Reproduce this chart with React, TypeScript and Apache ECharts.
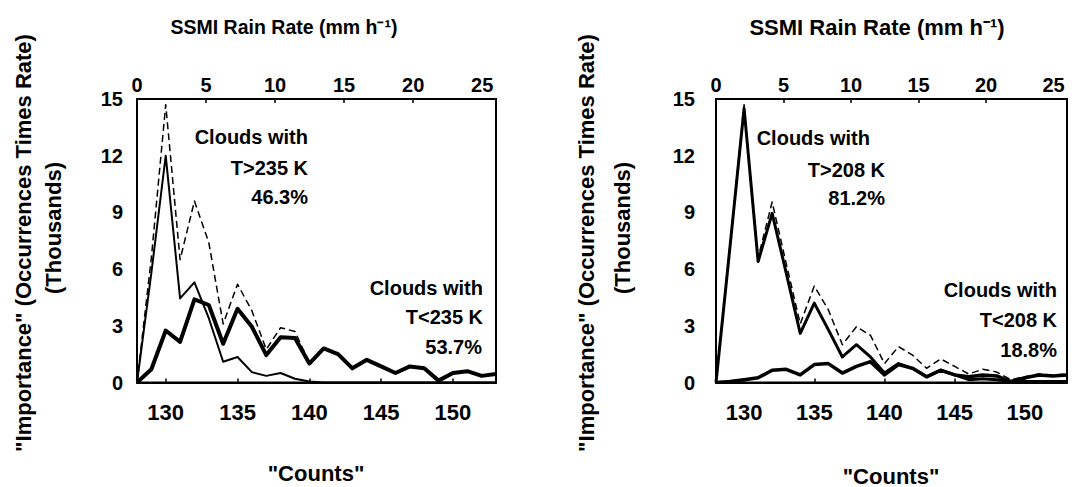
import React, { useEffect, useRef } from "react";
import * as echarts from "echarts";

// ---------- data ----------
const counts = [128, 129, 130, 131, 132, 133, 134, 135, 136, 137, 138, 139, 140, 141, 142, 143, 144, 145, 146, 147, 148, 149, 150, 151, 152, 153];

// Left panel (threshold 235 K)
const leftTotal = [0, 6.6, 14.7, 6.5, 9.6, 7.4, 3.1, 5.2, 3.8, 1.75, 2.9, 2.7, 1.05, 1.8, 1.5, 0.75, 1.2, 0.85, 0.5, 0.85, 0.75, 0.1, 0.5, 0.6, 0.35, 0.45];
const leftWarm = [0, 5.8, 12.0, 4.45, 5.3, 3.4, 1.1, 1.35, 0.55, 0.35, 0.5, 0.2, 0.05, 0, 0, 0, 0, 0, 0, 0, 0, 0, 0, 0, 0, 0];
const leftCold = [0, 0.7, 2.75, 2.15, 4.4, 4.1, 2.05, 3.9, 2.95, 1.45, 2.4, 2.35, 1.0, 1.8, 1.5, 0.75, 1.2, 0.85, 0.5, 0.85, 0.75, 0.1, 0.5, 0.6, 0.35, 0.45];

// Right panel (threshold 208 K)
const rightTotal = [0, 7.3, 14.7, 6.6, 9.55, 6.3, 3.1, 5.1, 3.85, 2.0, 2.95, 2.5, 1.0, 1.9, 1.45, 0.75, 1.25, 0.85, 0.45, 0.7, 0.55, 0.15, 0.3, 0.45, 0.4, 0.45];
const rightWarm = [0, 7.2, 14.5, 6.4, 8.95, 5.8, 2.6, 4.2, 2.8, 1.35, 2.0, 1.35, 0.5, 1.0, 0.75, 0.3, 0.65, 0.4, 0.15, 0.2, 0.15, 0.05, 0.05, 0.05, 0.05, 0.05];
const rightCold = [0, 0.05, 0.15, 0.25, 0.65, 0.7, 0.4, 0.95, 1.0, 0.5, 0.85, 1.1, 0.4, 0.95, 0.75, 0.3, 0.65, 0.4, 0.3, 0.4, 0.35, 0.05, 0.25, 0.4, 0.35, 0.4];

// Axis ticks / labels
const countTicks = [130, 135, 140, 145, 150];
const rainLabels = [0, 5, 10, 15, 20, 25];
const rainTicks = [5, 10, 15, 20];

const xTitle = '"Counts"';
const topTitle = "SSMI Rain Rate (mm h\u207B\u00B9)";
const yTitle1 = '"Importance" (Occurrences Times Rate)';
const yTitle2 = "(Thousands)";
const leftNotes = [["Clouds with", "T>235 K", "46.3%"], ["Clouds with", "T<235 K", "53.7%"]];
const rightNotes = [["Clouds with", "T>208 K", "81.2%"], ["Clouds with", "T<208 K", "18.8%"]];

const FONT = '"Liberation Sans", Arial, Helvetica, sans-serif';

function pairs(v: number[]) {
  return counts.map((c, i) => [c, v[i]]);
}

export default function App() {
  const ref = useRef<HTMLDivElement>(null);

  useEffect(() => {
    if (!ref.current) return;
    const chart = echarts.init(ref.current, null, { renderer: "svg" });

    const grids = [
      { left: 137, top: 99, width: 359, height: 283.5 },
      { left: 716, top: 99, width: 351, height: 283.5 },
    ];

    const bottomAxis = (gi: number) => ({
      type: "value",
      gridIndex: gi,
      position: "bottom",
      min: 128,
      max: 153,
      axisLine: { show: true, onZero: false, lineStyle: { color: "#000", width: 2 } },
      axisTick: { show: true, inside: true, length: 4, customValues: countTicks, lineStyle: { color: "#000", width: 1.5 } },
      axisLabel: { customValues: countTicks, margin: 19, fontSize: 22, fontWeight: "bold", color: "#000", fontFamily: FONT },
      splitLine: { show: false },
    });
    const topAxis = (gi: number) => ({
      type: "value",
      gridIndex: gi,
      position: "top",
      min: 0,
      max: 26,
      axisLine: { show: true, onZero: false, lineStyle: { color: "#000", width: 2 } },
      axisTick: { show: true, inside: true, length: 4, customValues: rainTicks, lineStyle: { color: "#000", width: 1.5 } },
      axisLabel: { customValues: rainLabels, margin: 4, fontSize: 20, fontWeight: "bold", color: "#000", fontFamily: FONT },
      splitLine: { show: false },
    });
    const yAx = (gi: number, margin: number) => ({
      type: "value",
      gridIndex: gi,
      min: 0,
      max: 15,
      interval: 3,
      axisLine: { show: true, onZero: false, lineStyle: { color: "#000", width: 2 } },
      axisTick: { show: false },
      axisLabel: { margin, fontSize: 20, fontWeight: "bold", color: "#000", fontFamily: FONT },
      splitLine: { show: false },
    });

    const line = (xi: number, yi: number, v: number[], width: number, dashed = false) => ({
      type: "line",
      xAxisIndex: xi,
      yAxisIndex: yi,
      data: pairs(v),
      symbol: "none",
      showSymbol: false,
      clip: true,
      lineStyle: { color: "#000", width, type: dashed ? [7, 4] : "solid", join: "round" },
      z: dashed ? 2 : 3,
    });

    const txt = (x: number, y: number, text: string, size: number, align = "center", rotation = 0) => ({
      type: "text",
      x,
      y,
      rotation,
      style: {
        text,
        fill: "#000",
        fontSize: size,
        fontWeight: "bold",
        fontFamily: FONT,
        textAlign: align,
        textVerticalAlign: "middle",
      },
    });

    const noteEls = (notes: string[][], pos: number[][]) => {
      const els: any[] = [];
      notes.forEach((grp, gi) => {
        grp.forEach((t, li) => {
          const p = pos[gi * 3 + li];
          els.push(txt(p[0], p[1], t, 20, "right"));
        });
      });
      return els;
    };

    const graphic = [
      txt(284, 27, topTitle, 19.5),
      txt(877, 27, topTitle, 22),
      txt(316, 473, xTitle, 22),
      txt(891, 476, xTitle, 22),
      txt(23, 243, yTitle1, 22, "center", Math.PI / 2),
      txt(53, 228, yTitle2, 22, "center", Math.PI / 2),
      txt(586, 243, yTitle1, 22, "center", Math.PI / 2),
      txt(622, 228, yTitle2, 22, "center", Math.PI / 2),
      ...noteEls(leftNotes, [
        [308, 137], [308, 168], [308, 197],
        [483, 288], [483, 317], [482, 347],
      ]),
      ...noteEls(rightNotes, [
        [870, 138], [885, 170], [885, 198],
        [1057, 290], [1057, 320], [1057, 350],
      ]),
    ];

    chart.setOption({
      animation: false,
      backgroundColor: "#fff",
      grid: grids.map((g) => ({ ...g, show: true, borderColor: "#000", borderWidth: 2, backgroundColor: "transparent" })),
      xAxis: [bottomAxis(0), topAxis(0), bottomAxis(1), topAxis(1)],
      yAxis: [yAx(0, 14), yAx(1, 21)],
      series: [
        line(0, 0, leftTotal, 1.5, true),
        line(0, 0, leftWarm, 2),
        line(0, 0, leftCold, 4),
        line(2, 1, rightTotal, 1.5, true),
        line(2, 1, rightWarm, 3),
        line(2, 1, rightCold, 3.5),
      ],
      graphic,
    });

    return () => chart.dispose();
  }, []);

  return (
    <div
      ref={ref}
      style={{ position: "absolute", left: 0, top: 0, width: 1085, height: 487, background: "#fff" }}
    />
  );
}
